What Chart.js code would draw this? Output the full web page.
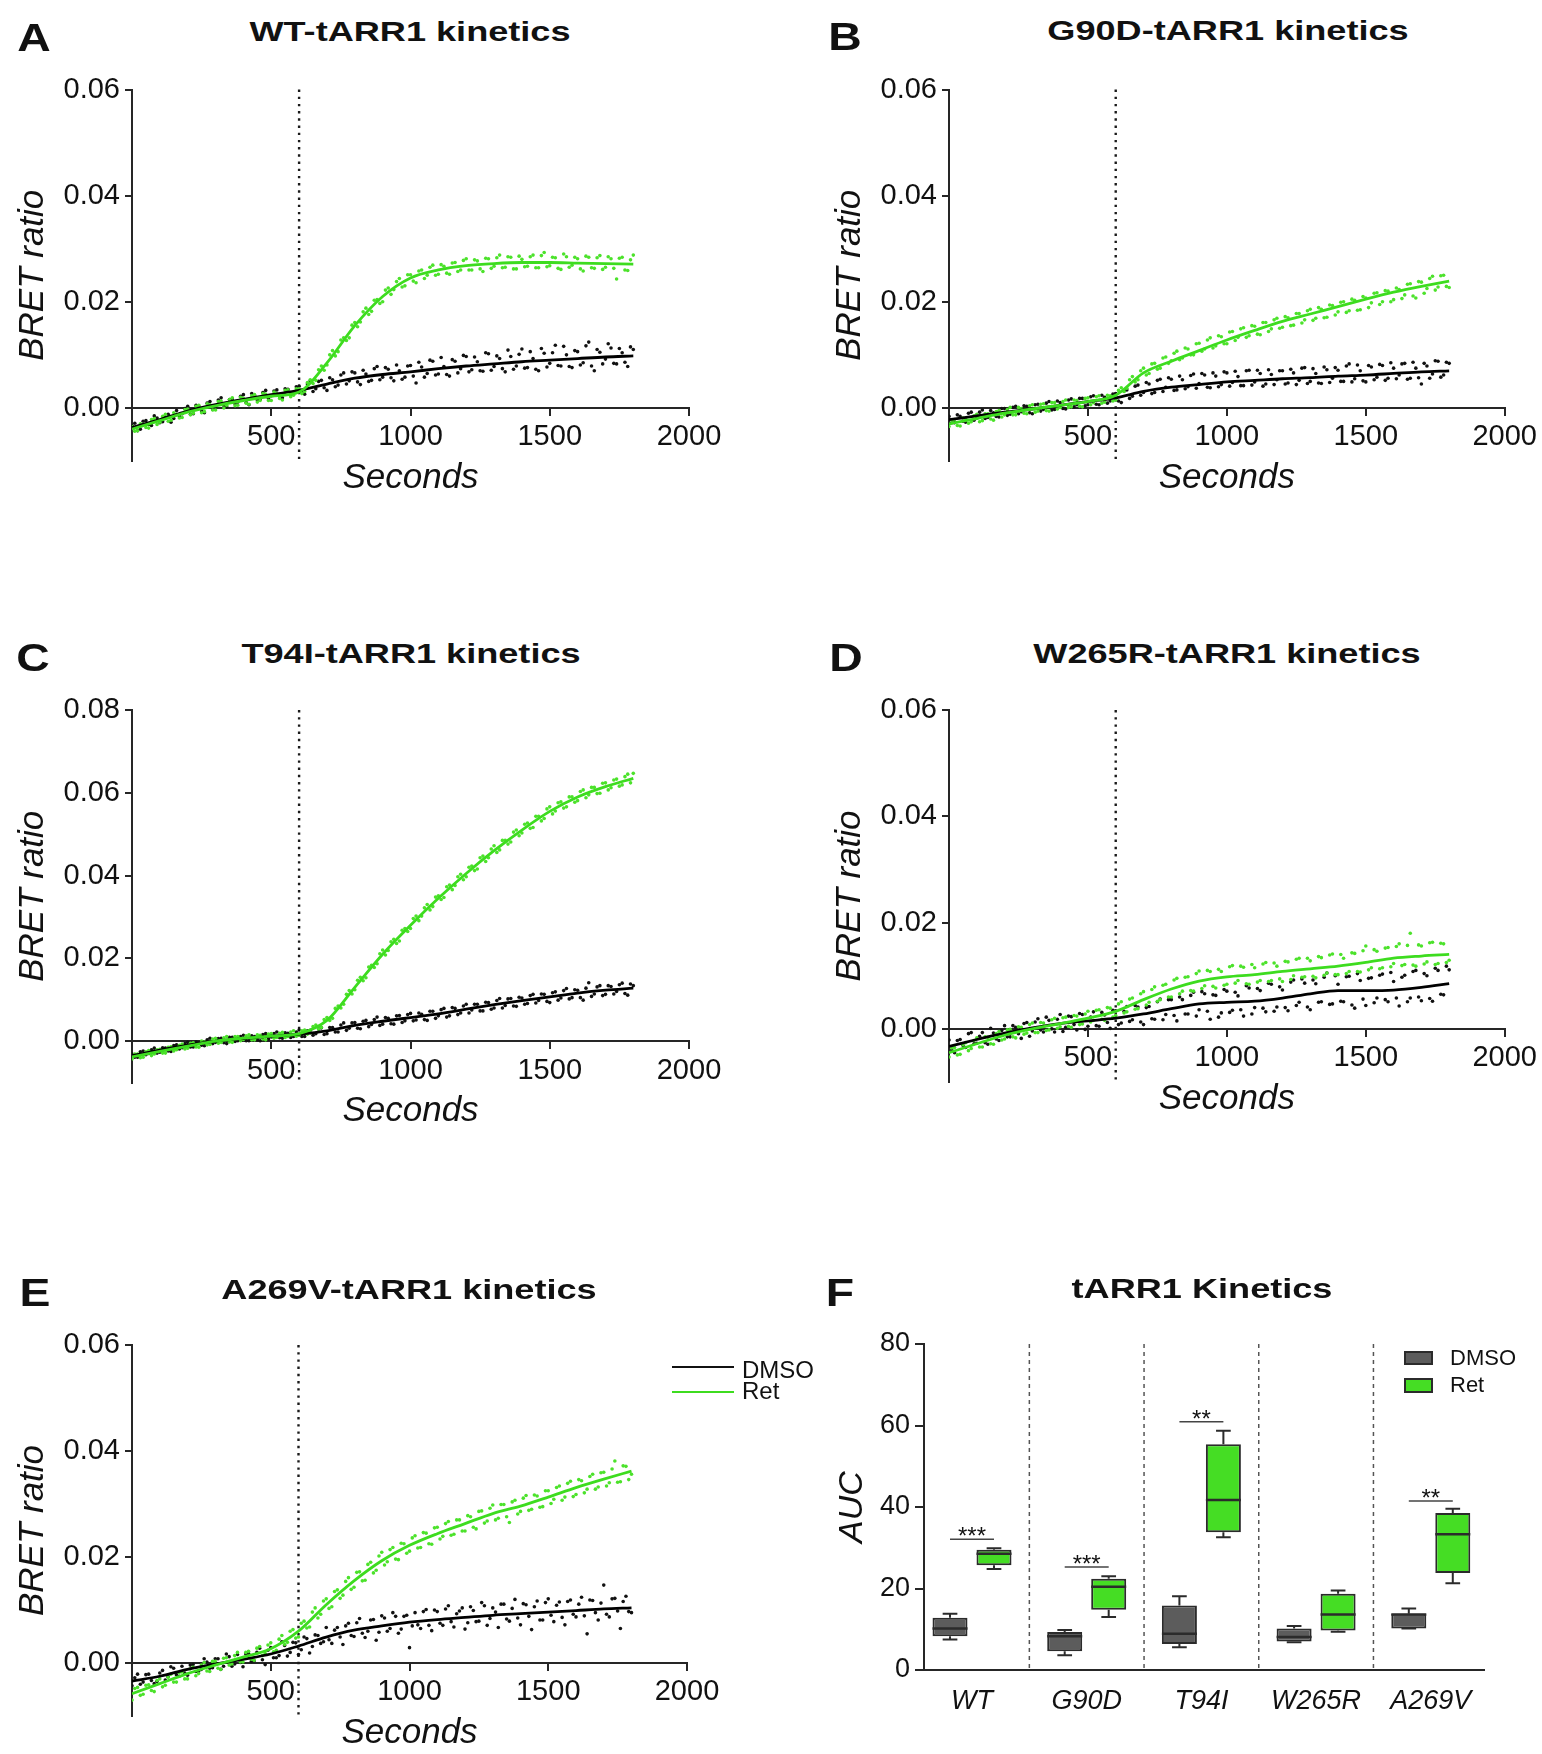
<!DOCTYPE html>
<html>
<head>
<meta charset="utf-8">
<script src="https://cdn.jsdelivr.net/npm/chart.js@4.4.0/dist/chart.umd.min.js"></script>
<style>
  body { margin: 0; background: #fff; }
  #fig { position: relative; width: 1542px; height: 1754px; background: #fff; overflow: hidden;
         font-family: "Liberation Sans", Arial, Helvetica, sans-serif; color: #111; }
  #fig canvas { position: absolute; }
  .letter { position: absolute; z-index: 2; font-weight: bold; font-size: 38px; line-height: 38px;
            transform: translate(-50%, -50%) scaleX(1.22); }
  .title { position: absolute; z-index: 2; font-weight: bold; font-size: 28px; line-height: 28px; white-space: nowrap;
           transform: translate(-50%, -50%) scaleX(1.29); }
  .legtext { position: absolute; z-index: 2; white-space: nowrap; }
  .legline { position: absolute; z-index: 2; height: 2.5px; }
  .legbox { position: absolute; z-index: 2; box-sizing: border-box; border: 2px solid #2b2b2b; }
</style>
</head>
<body>
<div id="fig">
  <canvas id="cA" width="770" height="470" style="left:0;top:50px"></canvas>
  <canvas id="cB" width="772" height="470" style="left:770px;top:50px"></canvas>
  <canvas id="cC" width="770" height="470" style="left:0;top:670px"></canvas>
  <canvas id="cD" width="772" height="470" style="left:770px;top:670px"></canvas>
  <canvas id="cE" width="770" height="454" style="left:0;top:1300px"></canvas>
  <canvas id="cF" width="772" height="454" style="left:770px;top:1300px"></canvas>

  <div class="letter" style="left:34px;top:38px">A</div>
  <div class="letter" style="left:845px;top:37px">B</div>
  <div class="letter" style="left:33px;top:658px">C</div>
  <div class="letter" style="left:846px;top:658px">D</div>
  <div class="letter" style="left:35px;top:1293px">E</div>
  <div class="letter" style="left:840px;top:1293px">F</div>

  <div class="title" style="left:410px;top:32px">WT-tARR1 kinetics</div>
  <div class="title" style="left:1228px;top:31px">G90D-tARR1 kinetics</div>
  <div class="title" style="left:411px;top:654px">T94I-tARR1 kinetics</div>
  <div class="title" style="left:1227px;top:654px">W265R-tARR1 kinetics</div>
  <div class="title" style="left:409px;top:1290px">A269V-tARR1 kinetics</div>
  <div class="title" style="left:1202px;top:1289px">tARR1 Kinetics</div>

  <!-- legend of panel E -->
  <div class="legline" style="left:672px;top:1365.5px;width:62px;background:#111"></div>
  <div class="legline" style="left:672px;top:1390.5px;width:62px;background:#3ddc1f"></div>
  <div class="legtext" style="left:742px;top:1357.5px;font-size:24px;line-height:24px">DMSO</div>
  <div class="legtext" style="left:742px;top:1379px;font-size:24px;line-height:24px">Ret</div>

  <!-- legend of panel F -->
  <div class="legbox" style="left:1404px;top:1350.5px;width:29px;height:14.5px;background:#5c5c5c"></div>
  <div class="legbox" style="left:1404px;top:1378px;width:29px;height:14.5px;background:#45dd24"></div>
  <div class="legtext" style="left:1450px;top:1347px;font-size:22px;line-height:22px">DMSO</div>
  <div class="legtext" style="left:1450px;top:1374px;font-size:22px;line-height:22px">Ret</div>
</div>

<script>
// BRET readings are stored as ratio x 10^4.
// "Pts" arrays are readings at 0, 20, 40 ... 1800 s, "Mid" arrays the ones at 10, 30 ... 1790 s.
const UNIT = 1e-4
const READ_STEP = 10    // seconds between readings once merged
const FIT_STEP = 100    // seconds between knots of the fitted curve
const RET_ADDED_AT = 600

const xTicks = [500, 1000, 1500, 2000]
const yTicks06 = [0, 0.02, 0.04, 0.06]
const yTicks08 = [0, 0.02, 0.04, 0.06, 0.08]

// ---- WT ----
const wtDmsoPts = [
  -33, -43, -25, -31, -15, -28, -17, -27, -5, -11,
  3, -11, 2, -9, 12, 2, 19, 2, 17, 11,
  25, 6, 24, 16, 33, 23, 34, 19, 35, 27,
  41, 26, 51, 36, 52, 33, 53, 43, 66, 51,
  66, 44, 64, 52, 78, 58, 73, 51, 70, 58,
  80, 47, 77, 65, 88, 64, 78, 60, 88, 74,
  97, 72, 87, 69, 102, 78, 93, 68, 97, 79,
  111, 76, 93, 70, 103, 84, 118, 79, 100, 76,
  106, 85, 124, 70, 105, 92, 113, 83, 104, 78,
  110]
const wtDmsoMid = [
  -29, -40, -24, -33, -19, -26, -12, -20, -15, -1,
  -12, 5, -6, 9, -3, 15, 4, 16, 8, 22,
  10, 27, 15, 29, 18, 32, 22, 36, 25, 40,
  30, 45, 31, 50, 38, 57, 40, 62, 45, 68,
  49, 71, 50, 74, 53, 76, 57, 81, 54, 79,
  60, 86, 58, 90, 62, 95, 63, 91, 66, 99,
  68, 96, 70, 104, 71, 98, 74, 109, 73, 101,
  75, 106, 73, 112, 77, 104, 80, 116, 78, 108,
  81, 117, 79, 110, 83, 121, 84, 112, 86, 115]
const wtRetPts = [
  -35, -43, -31, -38, -20, -27, -12, -23, -12, -18,
  -2, -10, 5, -7, 6, -4, 13, 5, 19, 5,
  18, 7, 25, 14, 26, 14, 27, 15, 34, 24,
  36, 31, 53, 52, 79, 81, 108, 106, 132, 132,
  161, 162, 188, 182, 204, 200, 226, 223, 244, 230,
  251, 236, 260, 250, 269, 252, 267, 252, 274, 260,
  281, 260, 277, 257, 281, 267, 288, 265, 284, 262,
  280, 267, 288, 264, 293, 268, 283, 261, 285, 269,
  281, 258, 284, 263, 287, 265, 281, 243, 284, 259,
  288]
const wtRetMid = [
  -44, -30, -37, -22, -31, -16, -25, -9, -19, -3,
  -13, 3, -9, 8, -4, 12, 0, 16, 4, 20,
  9, 23, 11, 27, 14, 30, 18, 33, 21, 36,
  27, 48, 46, 72, 71, 100, 98, 128, 127, 156,
  153, 181, 176, 203, 197, 222, 214, 238, 228, 251,
  239, 258, 244, 265, 250, 270, 254, 273, 257, 278,
  260, 279, 262, 282, 263, 283, 264, 285, 262, 286,
  266, 285, 264, 287, 266, 284, 263, 290, 265, 284,
  262, 286, 264, 283, 261, 285, 263, 282, 260, 279]
const wtDmsoFit = [-37, -22, -6, 6, 16, 25, 33, 45, 56, 63, 68, 74, 79, 83, 87, 90, 93, 96, 98]
const wtRetFit = [-40, -24, -8, 4, 14, 22, 30, 85, 155, 210, 245, 260, 268, 272, 274, 274, 273, 272, 271]

// ---- G90D ----
const g90dDmsoPts = [
  -16, -28, -16, -27, -8, -19, -4, -18, -9, -17,
  -1, -12, 3, -7, 3, -11, 7, -3, 12, -3,
  10, -2, 17, 6, 18, 6, 23, 6, 20, 13,
  27, 10, 34, 22, 43, 29, 45, 29, 54, 39,
  54, 34, 53, 40, 64, 46, 62, 38, 60, 44,
  66, 48, 59, 42, 71, 49, 65, 45, 63, 53,
  70, 47, 66, 52, 76, 50, 65, 46, 72, 56,
  71, 50, 83, 55, 70, 49, 77, 58, 80, 56,
  75, 62, 84, 56, 75, 45, 79, 64, 88, 62,
  84]
const g90dDmsoMid = [
  -28, -13, -25, -10, -23, -8, -20, -5, -16, -1,
  -14, 1, -11, 4, -9, 6, -6, 9, -4, 13,
  -1, 15, 2, 18, 4, 21, 7, 24, 9, 26,
  13, 32, 18, 41, 24, 48, 27, 52, 31, 57,
  33, 60, 36, 61, 37, 65, 39, 66, 40, 68,
  41, 69, 42, 70, 43, 71, 41, 72, 44, 70,
  45, 73, 44, 75, 46, 74, 47, 77, 48, 76,
  50, 79, 49, 81, 51, 80, 53, 82, 52, 85,
  55, 83, 54, 86, 57, 84, 56, 89, 58, 86]
const g90dRetPts = [
  -35, -22, -34, -21, -26, -12, -24, -11, -23, -5,
  -13, 1, -13, -1, -11, 6, -6, 8, -6, 10,
  1, 15, 2, 14, 2, 19, 10, 23, 11, 23,
  15, 38, 37, 59, 53, 75, 65, 84, 75, 96,
  89, 107, 94, 111, 100, 122, 111, 132, 117, 134,
  121, 144, 133, 151, 136, 154, 138, 161, 149, 169,
  152, 170, 156, 178, 166, 186, 169, 186, 171, 193,
  181, 200, 183, 203, 185, 207, 198, 217, 200, 220,
  204, 223, 213, 234, 207, 237, 225, 248, 228, 250,
  227]
const g90dRetMid = [
  -23, -33, -19, -29, -15, -26, -11, -21, -7, -17,
  -3, -13, 1, -10, 4, -8, 7, -5, 10, -2,
  12, 1, 15, 3, 18, 6, 21, 9, 24, 13,
  33, 31, 53, 49, 70, 62, 83, 73, 94, 84,
  103, 91, 113, 100, 121, 107, 128, 113, 136, 121,
  143, 127, 149, 133, 155, 139, 161, 144, 166, 150,
  172, 155, 178, 160, 183, 165, 189, 170, 194, 175,
  199, 180, 205, 184, 210, 189, 216, 195, 221, 200,
  226, 206, 233, 211, 238, 216, 244, 222, 249, 229]
const g90dDmsoFit = [-22, -15, -8, -2, 5, 12, 19, 31, 39, 44, 49, 52, 55, 57, 60, 62, 65, 68, 70]
const g90dRetFit = [-30, -20, -10, -2, 5, 12, 24, 66, 88, 108, 128, 146, 163, 177, 191, 205, 218, 229, 239]

// ---- T94I ----
const t94iDmsoPts = [
  -31, -39, -24, -30, -17, -27, -17, -25, -9, -16,
  -3, -14, -4, -11, 7, -3, 7, -6, 9, 1,
  14, 1, 11, 1, 18, 10, 22, 7, 19, 11,
  27, 11, 26, 18, 32, 18, 33, 22, 44, 31,
  45, 30, 50, 40, 58, 41, 55, 41, 62, 49,
  67, 51, 65, 50, 72, 61, 79, 61, 79, 68,
  89, 75, 89, 73, 93, 80, 103, 86, 103, 84,
  104, 91, 113, 98, 113, 93, 119, 104, 127, 105,
  123, 99, 141, 114, 134, 113, 132, 120, 140, 111,
  134]
const t94iDmsoMid = [
  -39, -26, -33, -21, -29, -16, -24, -11, -19, -6,
  -14, -2, -10, 3, -6, 6, -4, 9, -1, 11,
  1, 13, 3, 16, 5, 18, 8, 20, 9, 22,
  11, 25, 14, 29, 16, 33, 22, 39, 26, 44,
  31, 48, 35, 52, 38, 57, 42, 61, 45, 64,
  49, 68, 52, 72, 55, 76, 58, 81, 64, 85,
  68, 89, 73, 94, 77, 98, 80, 102, 85, 106,
  89, 110, 92, 114, 96, 117, 99, 122, 102, 124,
  105, 128, 108, 131, 110, 134, 114, 136, 115, 138]
const t94iRetPts = [
  -43, -31, -39, -23, -31, -20, -29, -14, -21, -7,
  -17, -4, -15, -2, -8, 7, -3, 11, -3, 11,
  4, 15, 3, 14, 3, 18, 9, 21, 11, 25,
  14, 27, 20, 39, 33, 57, 55, 85, 89, 122,
  124, 154, 153, 183, 187, 220, 219, 246, 242, 272,
  272, 302, 302, 330, 325, 351, 347, 377, 376, 403,
  397, 423, 416, 447, 443, 472, 462, 485, 481, 510,
  503, 527, 516, 543, 538, 566, 556, 578, 566, 590,
  581, 607, 595, 613, 599, 624, 612, 633, 619, 645,
  647]
const t94iRetMid = [
  -31, -40, -26, -35, -21, -29, -15, -24, -10, -19,
  -5, -14, 0, -9, 5, -5, 8, -2, 11, 1,
  13, 3, 15, 5, 17, 7, 19, 9, 22, 12,
  25, 17, 35, 29, 52, 50, 79, 80, 113, 114,
  147, 146, 179, 178, 211, 208, 240, 236, 268, 265,
  296, 291, 322, 317, 348, 342, 373, 366, 397, 390,
  420, 412, 443, 434, 464, 456, 485, 476, 505, 496,
  524, 514, 543, 532, 561, 549, 576, 563, 590, 577,
  603, 588, 613, 598, 623, 607, 631, 616, 639, 624]
const t94iDmsoFit = [-35, -22, -10, 0, 6, 12, 17, 25, 38, 48, 57, 66, 77, 88, 98, 107, 116, 123, 128]
const t94iRetFit = [-38, -25, -12, 0, 7, 12, 18, 50, 130, 210, 280, 345, 405, 460, 510, 555, 590, 615, 635]

// ---- W265R ----
const w265rDmsoPts = [
  -21, -45, -20, -35, -7, -27, -7, -29, -8, -22,
  6, -15, 3, -18, 12, -4, 19, -6, 16, -6,
  27, 3, 23, -2, 27, 5, 32, 5, 26, 1,
  34, 11, 42, 17, 41, 8, 42, 18, 56, 27,
  55, 15, 55, 28, 69, 36, 66, 18, 63, 30,
  71, 35, 62, 24, 77, 40, 72, 32, 84, 41,
  73, 34, 92, 50, 86, 36, 85, 51, 105, 47,
  84, 51, 99, 39, 91, 44, 96, 58, 103, 51,
  89, 43, 101, 58, 110, 53, 100, 52, 110, 64,
  111]
const w265rDmsoMid = [
  -40, -22, -31, -9, -28, -14, -26, 1, -19, -3,
  -15, 6, -9, 10, -14, 13, -2, 22, 0, 18,
  -5, 24, 8, 29, -1, 22, 6, 31, 12, 35,
  8, 33, 14, 44, 13, 40, 19, 51, 17, 55,
  25, 60, 28, 63, 24, 70, 33, 64, 22, 74,
  31, 69, 36, 81, 28, 76, 39, 86, 33, 79,
  40, 88, 44, 94, 41, 92, 50, 97, 46, 100,
  52, 98, 45, 104, 56, 95, 49, 101, 55, 106,
  58, 97, 51, 108, 60, 104, 57, 114, 65, 118]
const w265rRetPts = [
  -53, -35, -48, -26, -37, -17, -34, -16, -29, -5,
  -19, -1, -17, 3, -8, 11, -7, 11, -2, 20,
  4, 22, 3, 24, 9, 33, 16, 36, 16, 39,
  25, 51, 32, 58, 38, 70, 50, 79, 55, 84,
  60, 95, 71, 98, 71, 109, 81, 108, 77, 108,
  84, 119, 91, 116, 84, 115, 91, 125, 91, 118,
  89, 126, 100, 133, 98, 128, 96, 134, 105, 141,
  102, 133, 108, 142, 107, 156, 115, 146, 115, 153,
  123, 160, 121, 180, 118, 156, 126, 163, 123, 160,
  129]
const w265rRetMid = [
  -36, -49, -30, -41, -22, -34, -15, -28, -9, -21,
  -2, -15, 4, -10, 8, -7, 12, -3, 17, 1,
  21, 5, 25, 8, 28, 13, 35, 18, 40, 22,
  47, 30, 56, 37, 66, 45, 74, 52, 82, 60,
  92, 66, 97, 72, 104, 76, 110, 80, 112, 82,
  117, 86, 118, 85, 121, 88, 122, 89, 124, 94,
  127, 93, 131, 97, 133, 99, 136, 101, 139, 102,
  140, 104, 143, 108, 147, 111, 149, 113, 152, 117,
  155, 119, 157, 120, 158, 122, 162, 121, 161, 125]
const w265rDmsoFit = [-33, -20, -8, 2, 10, 15, 20, 28, 38, 47, 50, 52, 58, 66, 72, 72, 73, 78, 85]
const w265rRetFit = [-45, -28, -12, 0, 10, 20, 33, 55, 75, 90, 98, 102, 108, 113, 118, 125, 133, 137, 140]

// ---- A269V ----
const a269vDmsoPts = [
  -43, -21, -36, -21, -39, -19, -32, -7, -22, -6,
  -23, -3, -16, 8, -10, 8, -12, 17, -6, 16,
  -7, 18, 4, 28, -3, 29, 10, 40, 13, 39,
  16, 49, 19, 53, 37, 67, 37, 67, 35, 75,
  50, 84, 48, 81, 43, 89, 60, 95, 56, 88,
  29, 95, 65, 101, 61, 97, 71, 108, 68, 98,
  64, 106, 78, 114, 71, 104, 67, 111, 79, 120,
  72, 110, 63, 117, 81, 121, 78, 115, 72, 119,
  87, 124, 55, 118, 81, 147, 87, 122, 65, 126,
  95]
const a269vDmsoMid = [
  -28, -40, -22, -33, -35, -14, -26, -10, -25, -19,
  -4, -16, -12, 2, -9, 8, -6, 12, -2, 1,
  17, 3, 20, 6, 24, 10, 14, 33, 20, 38,
  25, 46, 31, 52, 40, 44, 62, 49, 70, 52,
  76, 56, 60, 82, 58, 85, 65, 88, 64, 90,
  70, 72, 97, 71, 100, 75, 102, 78, 93, 104,
  76, 99, 79, 108, 84, 96, 111, 83, 103, 85,
  112, 88, 106, 81, 114, 90, 109, 86, 116, 92,
  111, 89, 119, 95, 113, 92, 121, 98, 116, 97]
const a269vRetPts = [
  -70, -46, -59, -41, -54, -30, -42, -21, -36, -17,
  -30, -8, -20, 1, -16, 3, -12, 10, -2, 20,
  2, 22, 5, 31, 18, 38, 24, 52, 39, 63,
  49, 79, 68, 104, 92, 121, 106, 138, 128, 161,
  143, 172, 156, 190, 175, 209, 191, 218, 195, 225,
  211, 240, 218, 245, 224, 256, 239, 267, 243, 270,
  249, 276, 253, 287, 268, 298, 273, 299, 265, 307,
  286, 316, 290, 315, 295, 325, 309, 334, 313, 343,
  318, 344, 328, 356, 332, 360, 340, 381, 342, 371,
  356]
const a269vRetMid = [
  -48, -61, -42, -52, -33, -45, -27, -36, -18, -30,
  -11, -24, -4, -15, 3, -10, 9, -4, 14, 2,
  20, 7, 28, 14, 34, 21, 45, 35, 60, 47,
  75, 66, 96, 85, 117, 103, 135, 122, 154, 139,
  171, 155, 186, 170, 202, 185, 214, 196, 226, 207,
  236, 217, 246, 225, 255, 234, 263, 241, 270, 249,
  278, 256, 286, 264, 292, 270, 299, 276, 304, 281,
  311, 288, 317, 294, 325, 301, 331, 307, 339, 314,
  346, 321, 352, 328, 359, 334, 366, 341, 372, 346]
const a269vDmsoFit = [-34, -25, -12, -2, 7, 17, 32, 49, 62, 70, 77, 82, 86, 90, 93, 96, 99, 102, 104]
const a269vRetFit = [-58, -39, -20, -4, 11, 27, 60, 110, 155, 193, 222, 244, 263, 282, 296, 313, 331, 347, 362]

// ---- AUC box plot ----
const groups = ['WT', 'G90D', 'T94I', 'W265R', 'A269V']
const dmsoMin = [7.5, 3.6, 5.6, 6.8, 10.2]
const dmsoQ1 = [8.3, 4.6, 6.4, 7.0, 10.2]
const dmsoMed = [10.2, 8.3, 8.9, 8.1, 13.6]
const dmsoQ3 = [12.8, 9.3, 15.8, 10.2, 13.8]
const dmsoMax = [13.8, 9.8, 18.1, 10.8, 15.1]
const retMin = [24.8, 13.0, 32.6, 9.4, 21.3]
const retQ1 = [25.7, 14.8, 33.8, 9.7, 23.8]
const retMed = [28.5, 20.4, 41.7, 13.6, 33.3]
const retQ3 = [29.5, 22.4, 55.4, 18.7, 38.5]
const retMax = [29.9, 23.0, 58.7, 19.5, 39.6]
const sigText = ['***', '***', '**', '', '**']
const sigLevel = [32.1, 25.3, 60.9, null, 41.5]

const FONT = '"Liberation Sans", Arial, Helvetica, sans-serif'
const INK = '#111'
const AXIS = '#262626'
const GREEN_LINE = '#3ddc1f'
const GREEN_DOT = '#4ce22b'
const BOX_GRAY = '#5c5c5c'
const BOX_GREEN = '#45dd24'
const BOX_EDGE = '#2b2b2b'

const toPoints = (vals, step) => vals.map((v, i) => ({ x: i * step, y: v * UNIT }))
// put the 10 s readings back between the 20 s ones
const merge = (even, odd) => even.flatMap((v, i) => (i < odd.length ? [v, odd[i]] : [v]))

const stimulusLine = {
  id: 'stimulusLine',
  beforeDatasetsDraw (chart, args, opts) {
    const { ctx, chartArea, scales } = chart
    const x = scales.x.getPixelForValue(opts.at)
    ctx.save()
    ctx.strokeStyle = '#1a1a1a'
    ctx.lineWidth = 2.4
    ctx.setLineDash([2.4, 4.8])
    ctx.beginPath()
    ctx.moveTo(x, chartArea.top)
    ctx.lineTo(x, chartArea.bottom)
    ctx.stroke()
    ctx.restore()
  }
}

const kineticChart = (id, p) => {
  const dots = (vals, color, order) => ({
    data: toPoints(vals, READ_STEP), backgroundColor: color, pointRadius: 1.8, borderWidth: 0, order
  })
  const fit = (vals, color, order) => ({
    data: toPoints(vals, FIT_STEP), showLine: true, borderColor: color, borderWidth: 2.8,
    pointRadius: 0, cubicInterpolationMode: 'monotone', order
  })

  return new Chart(document.getElementById(id), {
    type: 'scatter',
    data: {
      datasets: [
        fit(p.retFit, GREEN_LINE, 0),
        fit(p.dmsoFit, '#000', 1),
        dots(p.ret, GREEN_DOT, 2),
        dots(p.dmso, INK, 3)
      ]
    },
    options: {
      responsive: false,
      animation: false,
      events: [],
      layout: { padding: p.pad },
      plugins: {
        legend: { display: false },
        tooltip: { enabled: false },
        stimulusLine: { at: RET_ADDED_AT }
      },
      scales: {
        x: {
          type: 'linear',
          position: { y: 0 },
          min: 0,
          max: 2000,
          afterBuildTicks: s => { s.ticks = xTicks.map(v => ({ value: v })) },
          afterFit: s => { s.height = 91 },
          grid: { drawOnChartArea: false, tickLength: 7, color: AXIS, lineWidth: 2 },
          border: { color: AXIS, width: 2 },
          ticks: { color: INK, padding: 5, maxRotation: 0, callback: v => String(v), font: { family: FONT, size: 29 } },
          title: {
            display: true, text: 'Seconds', color: INK, padding: { top: 0, bottom: 0 },
            font: { family: FONT, size: 35, style: 'italic' }
          }
        },
        y: {
          min: -0.01,
          max: p.yTicks[p.yTicks.length - 1],
          afterBuildTicks: s => { s.ticks = p.yTicks.map(v => ({ value: v })) },
          afterFit: s => { s.width = 132 },
          grid: { drawOnChartArea: false, tickLength: 7, color: AXIS, lineWidth: 2 },
          border: { color: AXIS, width: 2 },
          ticks: { color: INK, padding: 5, callback: v => v.toFixed(2), font: { family: FONT, size: 29 } },
          title: {
            display: true, text: 'BRET ratio', color: INK, padding: { top: 12.5, bottom: 0 },
            font: { family: FONT, size: 35, style: 'italic' }
          }
        }
      }
    },
    plugins: [stimulusLine]
  })
}

kineticChart('cA', { dmso: merge(wtDmsoPts, wtDmsoMid), ret: merge(wtRetPts, wtRetMid),
  dmsoFit: wtDmsoFit, retFit: wtRetFit, yTicks: yTicks06, pad: { left: 0, top: 39.5, right: 81, bottom: 59 } })
kineticChart('cB', { dmso: merge(g90dDmsoPts, g90dDmsoMid), ret: merge(g90dRetPts, g90dRetMid),
  dmsoFit: g90dDmsoFit, retFit: g90dRetFit, yTicks: yTicks06, pad: { left: 47, top: 39.5, right: 34, bottom: 59 } })
kineticChart('cC', { dmso: merge(t94iDmsoPts, t94iDmsoMid), ret: merge(t94iRetPts, t94iRetMid),
  dmsoFit: t94iDmsoFit, retFit: t94iRetFit, yTicks: yTicks08, pad: { left: 0, top: 40, right: 81, bottom: 57.5 } })
kineticChart('cD', { dmso: merge(w265rDmsoPts, w265rDmsoMid), ret: merge(w265rRetPts, w265rRetMid),
  dmsoFit: w265rDmsoFit, retFit: w265rRetFit, yTicks: yTicks06, pad: { left: 47, top: 40, right: 34, bottom: 58 } })
kineticChart('cE', { dmso: merge(a269vDmsoPts, a269vDmsoMid), ret: merge(a269vRetPts, a269vRetMid),
  dmsoFit: a269vDmsoFit, retFit: a269vRetFit, yTicks: yTicks06, pad: { left: 0, top: 45, right: 83, bottom: 38 } })

// whiskers, medians, group separators and significance bars
const boxExtras = {
  id: 'boxExtras',
  beforeDatasetsDraw (chart) {
    const { ctx, chartArea, scales: { x } } = chart
    ctx.save()
    ctx.strokeStyle = '#555'
    ctx.lineWidth = 1.5
    ctx.setLineDash([4, 4])
    for (let i = 0; i < groups.length - 1; i++) {
      const px = x.getPixelForValue(i + 0.5)
      ctx.beginPath()
      ctx.moveTo(px, chartArea.top)
      ctx.lineTo(px, chartArea.bottom)
      ctx.stroke()
    }
    ctx.restore()
  },
  afterDatasetsDraw (chart) {
    const { ctx, scales: { y } } = chart
    const stats = [[dmsoMin, dmsoMed, dmsoMax], [retMin, retMed, retMax]]
    ctx.save()
    ctx.strokeStyle = BOX_EDGE
    stats.forEach(([mins, meds, maxs], di) => {
      chart.getDatasetMeta(di).data.forEach((bar, i) => {
        const { x: cx, y: top, base, width } = bar.getProps(['x', 'y', 'base', 'width'], true)
        const cap = width * 0.21
        const yMax = y.getPixelForValue(maxs[i])
        const yMin = y.getPixelForValue(mins[i])
        const yMed = y.getPixelForValue(meds[i])
        ctx.lineWidth = 2
        ctx.beginPath()
        ctx.moveTo(cx, Math.min(top, base)); ctx.lineTo(cx, yMax)
        ctx.moveTo(cx - cap, yMax); ctx.lineTo(cx + cap, yMax)
        ctx.moveTo(cx, Math.max(top, base)); ctx.lineTo(cx, yMin)
        ctx.moveTo(cx - cap, yMin); ctx.lineTo(cx + cap, yMin)
        ctx.stroke()
        ctx.lineWidth = 2.5
        ctx.beginPath()
        ctx.moveTo(cx - width / 2, yMed); ctx.lineTo(cx + width / 2, yMed)
        ctx.stroke()
      })
    })

    const dm = chart.getDatasetMeta(0).data
    const rt = chart.getDatasetMeta(1).data
    ctx.strokeStyle = '#444'
    ctx.fillStyle = INK
    ctx.lineWidth = 1.5
    ctx.font = '24px ' + FONT
    ctx.textAlign = 'center'
    ctx.textBaseline = 'alphabetic'
    sigLevel.forEach((lvl, i) => {
      if (lvl == null) return
      const py = y.getPixelForValue(lvl)
      ctx.beginPath()
      ctx.moveTo(dm[i].x, py)
      ctx.lineTo(rt[i].x, py)
      ctx.stroke()
      ctx.fillText(sigText[i], (dm[i].x + rt[i].x) / 2, py + 5)
    })
    ctx.restore()
  }
}

const boxData = (lo, hi) => groups.map((g, i) => ({ x: i, y: [lo[i], hi[i]] }))

new Chart(document.getElementById('cF'), {
  type: 'bar',
  data: {
    datasets: [
      { label: 'DMSO', data: boxData(dmsoQ1, dmsoQ3), backgroundColor: BOX_GRAY, borderColor: BOX_EDGE,
        borderWidth: 2, borderSkipped: false, categoryPercentage: 0.767, barPercentage: 0.796 },
      { label: 'Ret', data: boxData(retQ1, retQ3), backgroundColor: BOX_GREEN, borderColor: BOX_EDGE,
        borderWidth: 2, borderSkipped: false, categoryPercentage: 0.767, barPercentage: 0.796 }
    ]
  },
  options: {
    responsive: false,
    animation: false,
    events: [],
    layout: { padding: { left: 50, top: 44, right: 58, bottom: 34 } },
    plugins: { legend: { display: false }, tooltip: { enabled: false } },
    scales: {
      x: {
        type: 'linear',
        min: -0.4185,
        max: 4.4639,
        offset: false,
        afterBuildTicks: s => { s.ticks = groups.map((g, i) => ({ value: i })) },
        afterFit: s => { s.height = 50 },
        grid: { display: false, offset: false },
        border: { color: AXIS, width: 2 },
        ticks: { color: INK, padding: 7, maxRotation: 0, autoSkip: false,
          callback: v => groups[v] ?? '', font: { family: FONT, size: 27, style: 'italic' } }
      },
      y: {
        min: 0,
        max: 80,
        afterFit: s => { s.width = 104 },
        grid: { drawOnChartArea: false, tickLength: 9, color: AXIS, lineWidth: 2 },
        border: { color: AXIS, width: 2 },
        ticks: { color: INK, stepSize: 20, padding: 5, font: { family: FONT, size: 27 } },
        title: {
          display: true, text: 'AUC', color: INK, padding: { top: 12.5, bottom: 0 },
          font: { family: FONT, size: 34, style: 'italic' }
        }
      }
    }
  },
  plugins: [boxExtras]
})
</script>
</body>
</html>
